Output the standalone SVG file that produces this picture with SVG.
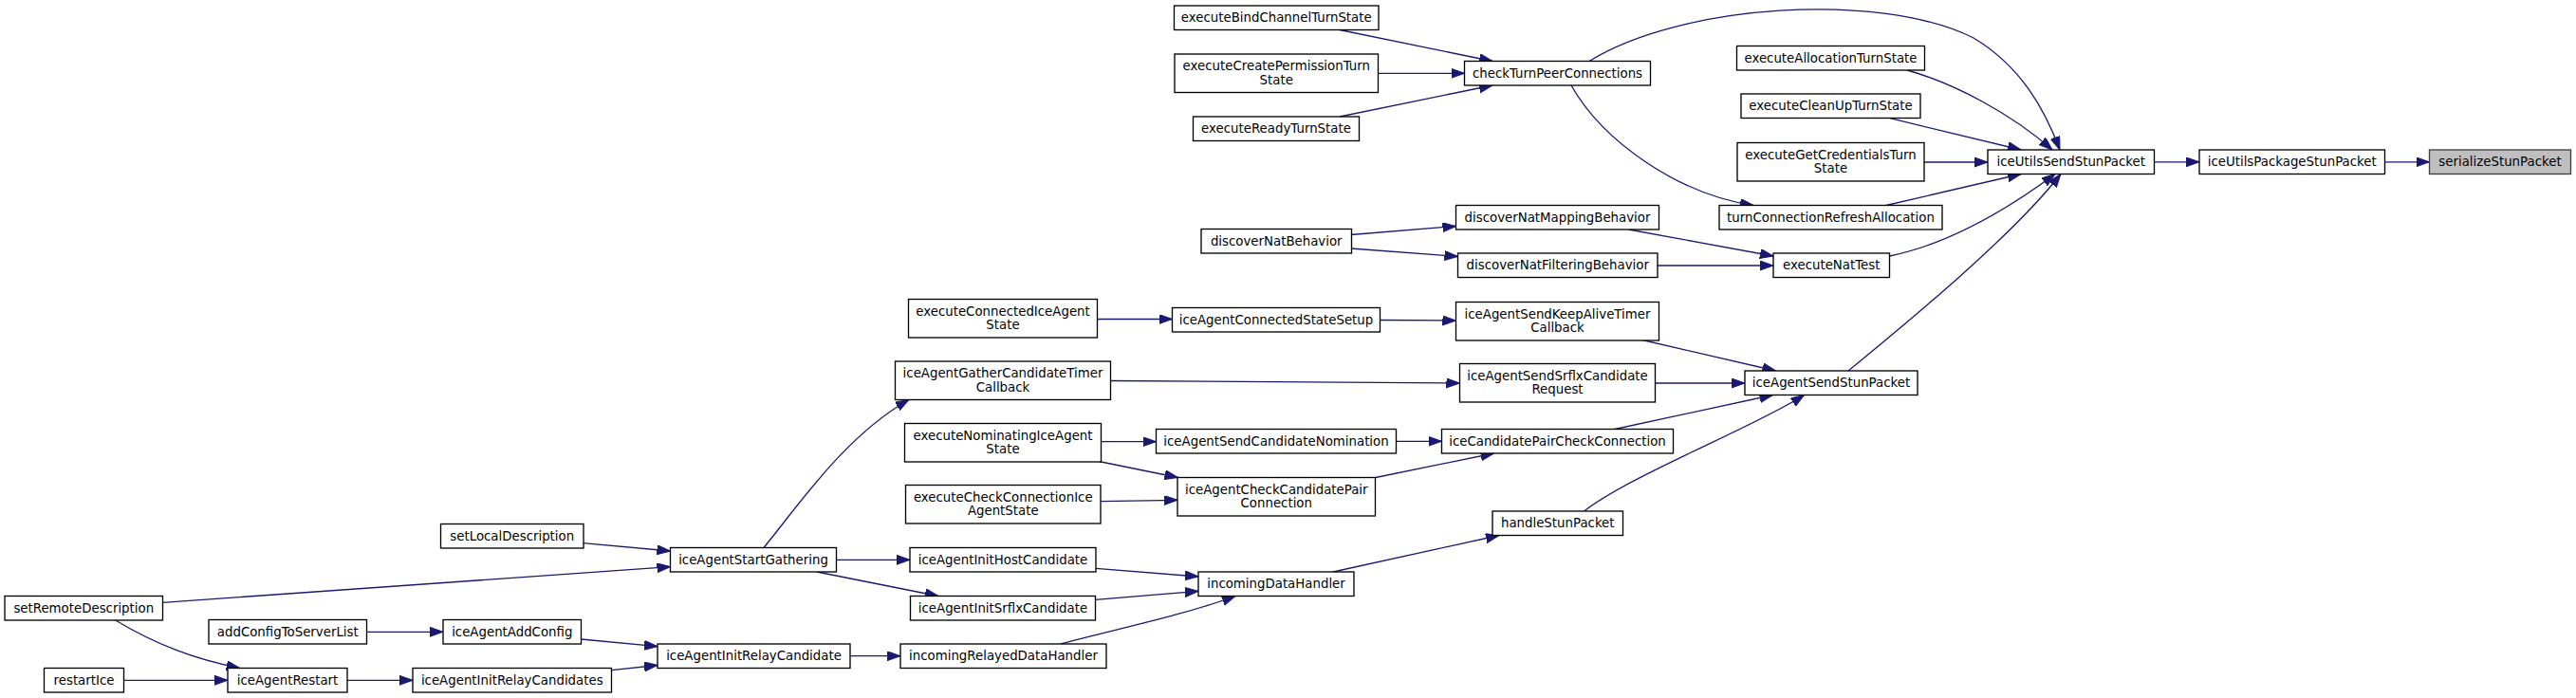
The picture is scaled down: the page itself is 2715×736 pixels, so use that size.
<svg xmlns="http://www.w3.org/2000/svg" width="2715" height="736" viewBox="0 0 2715 736">
<defs>
<style>
.n rect{fill:#fff;stroke:#000;stroke-width:1.33}
.n.g rect{fill:#bfbfbf;stroke:#404040}
.n text{font-family:"DejaVu Sans","Liberation Sans",sans-serif;font-size:13.33px;fill:#000;text-anchor:middle}
.e path{fill:none;stroke:#191970;stroke-width:1.33;marker-end:url(#ah)}
</style>
<marker id="ah" markerUnits="userSpaceOnUse" markerWidth="16" markerHeight="12" refX="14" refY="5" orient="auto">
<path d="M0,0 L14,5 L0,10 z" fill="#191970" stroke="#191970" stroke-width="1"/>
</marker>
</defs>
<rect width="2715" height="736" fill="#fff"/>
<g id="edges" class="e">
<path d="M2513.5,170.8 L2560.5,170.8"/>
<path d="M2270.5,170.8 L2318,170.8"/>
<path d="M1675,64.5 C1770,5 1980,-10 2080,40 C2130,70 2155,115 2171,158"/>
<path d="M2010,74 C2060,88 2120,120 2163,158"/>
<path d="M1992,124.7 L2130,158"/>
<path d="M2028,171 L2095,171"/>
<path d="M1988,216.5 L2130,183.5"/>
<path d="M1991.5,270 C2050,258 2110,225 2166,183.5"/>
<path d="M1948,391 C2010,340 2120,250 2172,183.5"/>
<path d="M1656,90 C1690,150 1770,205 1848,216.5"/>
<path d="M1412,31.5 L1573,64.5"/>
<path d="M1452.5,77.3 L1543.5,77.3"/>
<path d="M1412,123 L1573,90"/>
<path d="M1424,247.5 L1534.5,238.5"/>
<path d="M1424,262 L1536.5,270.5"/>
<path d="M1716.5,242 L1869,270"/>
<path d="M1747,280 L1869,280"/>
<path d="M1156.5,336.5 L1235.5,336.5"/>
<path d="M1454.5,337.5 L1534.5,338"/>
<path d="M1731,358.5 L1871.5,391"/>
<path d="M1170.5,401.5 L1538.5,404"/>
<path d="M1744.5,404 L1839,404"/>
<path d="M1702,452.5 L1868.5,416.5"/>
<path d="M1669.5,539 C1720,500 1850,450 1901.5,416.5"/>
<path d="M1160.5,465.7 L1218.5,465.7"/>
<path d="M1471.5,465.3 L1519.5,465.3"/>
<path d="M1158,486.5 L1241.5,503.5"/>
<path d="M1160,528.7 L1241,527.3"/>
<path d="M1450,503.5 L1574.5,478"/>
<path d="M1405,603 L1580,564.5"/>
<path d="M1155,599.3 L1263,608"/>
<path d="M1154.5,632.3 L1263,623.3"/>
<path d="M1118,679 C1170,665 1250,648 1302,628.5"/>
<path d="M805,577.5 C840,535 890,460 958,421.5"/>
<path d="M881.5,590.3 L959,590.3"/>
<path d="M861,603 L989,628.5"/>
<path d="M614.5,572.7 L706.5,581"/>
<path d="M171.5,635.3 L706.5,597.7"/>
<path d="M121.7,654 C165,680 205,695 252.6,704.5"/>
<path d="M130.5,717.3 L240,717.3"/>
<path d="M386,666.3 L467,666.3"/>
<path d="M612.5,674 L693,681.7"/>
<path d="M366,717.3 L435,717.3"/>
<path d="M644.5,706.7 L693,701.5"/>
<path d="M896,691.7 L949,691.7"/>
</g>
<g id="serializeStunPacket" class="n g"><rect x="2560.5" y="158" width="149" height="25.5"/><text x="2635" y="175">serializeStunPacket</text></g>
<g id="iceUtilsPackageStunPacket" class="n"><rect x="2318" y="158" width="195.5" height="25.5"/><text x="2415.75" y="175">iceUtilsPackageStunPacket</text></g>
<g id="iceUtilsSendStunPacket" class="n"><rect x="2095" y="158" width="175.5" height="25.5"/><text x="2182.75" y="175">iceUtilsSendStunPacket</text></g>
<g id="executeBindChannelTurnState" class="n"><rect x="1237.5" y="6" width="215.5" height="25.5"/><text x="1345.25" y="23">executeBindChannelTurnState</text></g>
<g id="executeCreatePermissionTurnState" class="n"><rect x="1238" y="57" width="214.5" height="40.5"/><text x="1345.25" y="74">executeCreatePermissionTurn</text><text x="1345.25" y="88.5">State</text></g>
<g id="executeReadyTurnState" class="n"><rect x="1257.5" y="123" width="175" height="25.5"/><text x="1345" y="140">executeReadyTurnState</text></g>
<g id="checkTurnPeerConnections" class="n"><rect x="1543.5" y="64.5" width="196" height="25.5"/><text x="1641.5" y="81.5">checkTurnPeerConnections</text></g>
<g id="executeAllocationTurnState" class="n"><rect x="1830.5" y="48.5" width="198" height="25.5"/><text x="1929.5" y="65.5">executeAllocationTurnState</text></g>
<g id="executeCleanUpTurnState" class="n"><rect x="1835" y="99" width="189" height="25.5"/><text x="1929.5" y="116">executeCleanUpTurnState</text></g>
<g id="executeGetCredentialsTurnState" class="n"><rect x="1831" y="150.5" width="197" height="40.5"/><text x="1929.5" y="167.5">executeGetCredentialsTurn</text><text x="1929.5" y="182">State</text></g>
<g id="turnConnectionRefreshAllocation" class="n"><rect x="1812" y="216.5" width="235" height="25.5"/><text x="1929.5" y="233.5">turnConnectionRefreshAllocation</text></g>
<g id="discoverNatMappingBehavior" class="n"><rect x="1534.5" y="216.5" width="214" height="25.5"/><text x="1641.5" y="233.5">discoverNatMappingBehavior</text></g>
<g id="discoverNatBehavior" class="n"><rect x="1266" y="241.5" width="158.5" height="25.5"/><text x="1345.25" y="258.5">discoverNatBehavior</text></g>
<g id="discoverNatFilteringBehavior" class="n"><rect x="1536.5" y="267" width="210.5" height="25.5"/><text x="1641.75" y="284">discoverNatFilteringBehavior</text></g>
<g id="executeNatTest" class="n"><rect x="1869" y="267" width="122.5" height="25.5"/><text x="1930.25" y="284">executeNatTest</text></g>
<g id="executeConnectedIceAgentState" class="n"><rect x="957.5" y="315.5" width="199" height="40.5"/><text x="1057" y="332.5">executeConnectedIceAgent</text><text x="1057" y="347">State</text></g>
<g id="iceAgentConnectedStateSetup" class="n"><rect x="1235.5" y="324.5" width="219" height="25.5"/><text x="1345" y="341.5">iceAgentConnectedStateSetup</text></g>
<g id="iceAgentSendKeepAliveTimerCallback" class="n"><rect x="1534.5" y="318.5" width="214" height="40.5"/><text x="1641.5" y="335.5">iceAgentSendKeepAliveTimer</text><text x="1641.5" y="350">Callback</text></g>
<g id="iceAgentGatherCandidateTimerCallback" class="n"><rect x="943.5" y="381" width="227" height="40.5"/><text x="1057" y="398">iceAgentGatherCandidateTimer</text><text x="1057" y="412.5">Callback</text></g>
<g id="iceAgentSendSrflxCandidateRequest" class="n"><rect x="1538.5" y="383.5" width="206" height="40.5"/><text x="1641.5" y="400.5">iceAgentSendSrflxCandidate</text><text x="1641.5" y="415">Request</text></g>
<g id="iceAgentSendStunPacket" class="n"><rect x="1839" y="391" width="182" height="25.5"/><text x="1930" y="408">iceAgentSendStunPacket</text></g>
<g id="executeNominatingIceAgentState" class="n"><rect x="953.5" y="446.5" width="207" height="40.5"/><text x="1057" y="463.5">executeNominatingIceAgent</text><text x="1057" y="478">State</text></g>
<g id="iceAgentSendCandidateNomination" class="n"><rect x="1218.5" y="452.5" width="253" height="25.5"/><text x="1345" y="469.5">iceAgentSendCandidateNomination</text></g>
<g id="iceCandidatePairCheckConnection" class="n"><rect x="1519.5" y="452.5" width="244" height="25.5"/><text x="1641.5" y="469.5">iceCandidatePairCheckConnection</text></g>
<g id="executeCheckConnectionIceAgentState" class="n"><rect x="954.5" y="511.5" width="205.5" height="40.5"/><text x="1057.25" y="528.5">executeCheckConnectionIce</text><text x="1057.25" y="543">AgentState</text></g>
<g id="iceAgentCheckCandidatePairConnection" class="n"><rect x="1241" y="503.5" width="208.5" height="40.5"/><text x="1345.25" y="520.5">iceAgentCheckCandidatePair</text><text x="1345.25" y="535">Connection</text></g>
<g id="handleStunPacket" class="n"><rect x="1573" y="539" width="137.5" height="25.5"/><text x="1641.75" y="556">handleStunPacket</text></g>
<g id="setLocalDescription" class="n"><rect x="464.5" y="552.5" width="150.5" height="25.5"/><text x="539.75" y="569.5">setLocalDescription</text></g>
<g id="iceAgentStartGathering" class="n"><rect x="706.5" y="577.5" width="175" height="25.5"/><text x="794" y="594.5">iceAgentStartGathering</text></g>
<g id="iceAgentInitHostCandidate" class="n"><rect x="959" y="577.5" width="196" height="25.5"/><text x="1057" y="594.5">iceAgentInitHostCandidate</text></g>
<g id="incomingDataHandler" class="n"><rect x="1263" y="603" width="164" height="25.5"/><text x="1345" y="620">incomingDataHandler</text></g>
<g id="setRemoteDescription" class="n"><rect x="5" y="628.5" width="166.5" height="25.5"/><text x="88.25" y="645.5">setRemoteDescription</text></g>
<g id="iceAgentInitSrflxCandidate" class="n"><rect x="959.5" y="628.5" width="195" height="25.5"/><text x="1057" y="645.5">iceAgentInitSrflxCandidate</text></g>
<g id="addConfigToServerList" class="n"><rect x="220" y="653.5" width="166.5" height="25.5"/><text x="303.25" y="670.5">addConfigToServerList</text></g>
<g id="iceAgentAddConfig" class="n"><rect x="467" y="653.5" width="145.5" height="25.5"/><text x="539.75" y="670.5">iceAgentAddConfig</text></g>
<g id="iceAgentInitRelayCandidate" class="n"><rect x="693" y="679" width="203" height="25.5"/><text x="794.5" y="696">iceAgentInitRelayCandidate</text></g>
<g id="incomingRelayedDataHandler" class="n"><rect x="949" y="679" width="217" height="25.5"/><text x="1057.5" y="696">incomingRelayedDataHandler</text></g>
<g id="restartIce" class="n"><rect x="46.5" y="704.5" width="84" height="25.5"/><text x="88.5" y="721.5">restartIce</text></g>
<g id="iceAgentRestart" class="n"><rect x="240" y="704.5" width="126" height="25.5"/><text x="303" y="721.5">iceAgentRestart</text></g>
<g id="iceAgentInitRelayCandidates" class="n"><rect x="435" y="704.5" width="209.5" height="25.5"/><text x="539.75" y="721.5">iceAgentInitRelayCandidates</text></g>
</svg>
